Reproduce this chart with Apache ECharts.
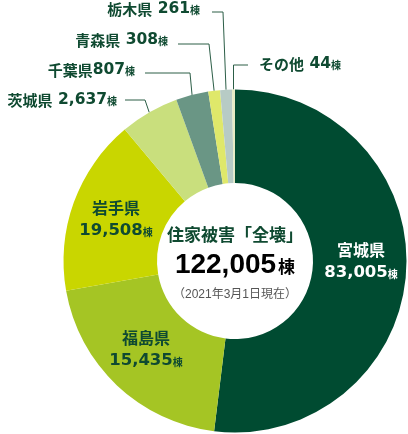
<!DOCTYPE html>
<html><head><meta charset="utf-8">
<script src="https://cdn.jsdelivr.net/npm/echarts@6/dist/echarts.min.js"></script>
<style>html,body{margin:0;padding:0;background:#fff}#c{width:408px;height:434px}</style>
</head><body><div id="c"></div>
<script>
// ---- data ----
const prefectures = ['宮城県','福島県','岩手県','茨城県','千葉県','青森県','栃木県','その他'];
const buildings   = [83005, 15435, 19508, 2637, 807, 308, 261, 44];
// slice sizes as drawn in the figure (degrees of arc; the figure is not to scale)
const drawnDegrees = [187, 73, 60, 20, 11, 4, 4, 1];
const centerTitle = '住家被害「全壊」';
const dateNote = '（2021年3月1日現在）';

// ---- styles & label placement ----
const sliceColors = ['#004b31','#a5c524','#c9d600','#c9df7d','#6a9685','#dfe86a','#b7cbc5','#e6ecc5'];
const nameSeparators = [' ',' ',' ',' ','',' ',' ',' '];
const insideLabels = {
  0: {x:361, y:261, color:'#ffffff'},
  1: {x:146, y:349, color:'#0f4a31'},
  2: {x:116, y:219, color:'#0f4a31'}
};
const outsideLabels = {
  3: {x:117, y:100, align:'right', bend:[145,100], end:[125,100]},
  4: {x:135, y:70,  align:'right', bend:[190,73],  end:[145,73]},
  5: {x:168, y:40,  align:'right', bend:[209,44],  end:[178,44]},
  6: {x:200, y:9,   align:'right', bend:[223,12],  end:[212,12]},
  7: {x:259, y:64,  align:'left',  bend:[233.5,65], end:[248,65]}
};
const CX = 235, CY = 261, R0 = 78, R1 = 171.5;
const JP = "'Noto Sans CJK JP',sans-serif";
const NUM = "'DejaVu Sans','Noto Sans CJK JP',sans-serif";
const LAT = "'Liberation Sans','Noto Sans CJK JP',sans-serif";
const GREEN = '#0f4a31';

const fmt = v => v.toLocaleString('en-US');
const total = buildings.reduce((a,b)=>a+b,0);

const data = prefectures.map((name,i)=>{
  const item = {name, value: drawnDegrees[i], itemStyle:{color:sliceColors[i]}};
  if (insideLabels[i]) {
    const c = insideLabels[i].color;
    item.label = {show:true, position:'inside',
      formatter: '{k|'+name+'}\n{n|'+fmt(buildings[i])+'}{u|棟}',
      rich:{
        k:{fontSize:16, fontWeight:'bold', color:c, fontFamily:JP, lineHeight:23, align:'center'},
        n:{fontSize:16.5, fontWeight:'bold', color:c, fontFamily:NUM, lineHeight:23},
        u:{fontSize:10, fontWeight:'bold', color:c, fontFamily:JP, lineHeight:23, padding:[4,0,0,0]}
      }};
    item.labelLine = {show:false};
  } else {
    item.label = {show:true, position:'outside',
      formatter: '{k|'+name+'}{n|'+nameSeparators[i]+fmt(buildings[i])+'}{u|棟}',
      rich:{
        k:{fontSize:15, fontWeight:'bold', color:GREEN, fontFamily:JP},
        n:{fontSize:15.5, fontWeight:'bold', color:GREEN, fontFamily:NUM},
        u:{fontSize:10, fontWeight:'bold', color:GREEN, fontFamily:JP, padding:[3,0,0,0]}
      }};
    item.labelLine = {show:true, length:10, length2:10, lineStyle:{color:'#2c5e47', width:1}};
  }
  return item;
});

// mid-angle edge point for a slice (fallback)
function edgePoint(i){
  const sumDeg = drawnDegrees.reduce((a,b)=>a+b,0);
  let acc = 0; for (let k=0;k<i;k++) acc += drawnDegrees[k];
  const mid = (acc + drawnDegrees[i]/2) / sumDeg * 2*Math.PI;
  return [CX + R1*Math.sin(mid), CY - R1*Math.cos(mid)];
}

const chart = echarts.init(document.getElementById('c'));
chart.setOption({
  animation:false,
  backgroundColor:'#ffffff',
  series:[{
    type:'pie',
    center:[CX, CY],
    radius:[R0, R1],
    startAngle:90,
    clockwise:true,
    avoidLabelOverlap:false,
    silent:true,
    itemStyle:{borderWidth:0},
    data,
    labelLayout: function(p){
      const inn = insideLabels[p.dataIndex];
      if (inn) return {x:inn.x, y:inn.y, align:'center', verticalAlign:'middle'};
      const a = outsideLabels[p.dataIndex];
      if (!a) return {};
      const start = (p.labelLinePoints && p.labelLinePoints[0]) ? p.labelLinePoints[0] : edgePoint(p.dataIndex);
      return {x:a.x, y:a.y, align:a.align, verticalAlign:'middle',
              labelLinePoints:[start, a.bend, a.end]};
    }
  }],
  graphic:[
    {type:'text', x:CX, y:235, silent:true, style:{text:centerTitle, align:'center', verticalAlign:'middle',
      font:"bold 17px "+JP, fill:GREEN}},
    {type:'text', x:CX, y:265, silent:true, style:{text:'{n|'+fmt(total)+'}{u|棟}', align:'center', verticalAlign:'middle',
      rich:{n:{fontSize:28, fontWeight:'bold', fontFamily:LAT, color:GREEN},
            u:{fontSize:17, fontWeight:'bold', fontFamily:JP, color:GREEN, padding:[4,0,0,2]}}}},
    {type:'text', x:CX, y:295, silent:true, style:{text:dateNote, align:'center', verticalAlign:'middle',
      font:"12px "+LAT, fill:'#555555'}}
  ]
});
</script></body></html>
